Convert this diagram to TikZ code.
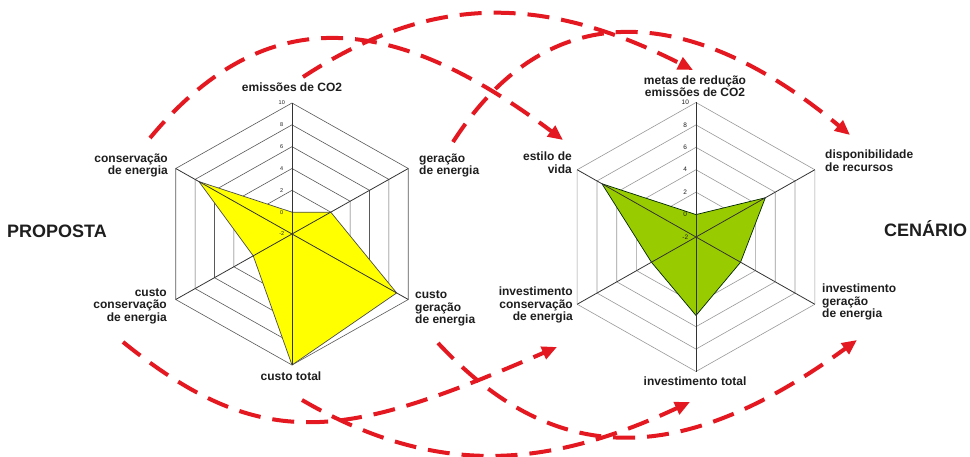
\documentclass[tikz,border=0pt]{standalone}
\usepackage{fontspec}
\setmainfont{Liberation Sans}
\usetikzlibrary{arrows.meta}
\definecolor{dred}{RGB}{228,24,32}
\definecolor{yfill}{RGB}{255,255,0}
\definecolor{gfill}{RGB}{153,204,0}
\definecolor{txt}{RGB}{30,30,30}
\begin{document}
\begin{tikzpicture}[x=1pt,y=-1pt,
  lbl/.style={font=\fontsize{12}{12.6}\selectfont\bfseries, text=txt, inner sep=0pt},
  big/.style={font=\fontsize{18}{20}\selectfont\bfseries, text=txt, inner sep=0pt},
  tickl/.style={font=\fontsize{5.5}{6}\selectfont, text=txt, inner sep=0pt},
  tickr/.style={font=\fontsize{6.5}{7}\selectfont, text=txt, inner sep=0pt},
  ringl/.style={draw=black!65, line width=0.6pt},
  ringr/.style={draw=black!40, line width=0.6pt},
  axisline/.style={draw=black!80, line width=0.8pt},
  flow/.style={draw=dred, line width=4pt, dash pattern=on 22pt off 12pt,
    -{Triangle[length=15pt,width=13pt]}}
]
\useasboundingbox[fill=white] (0,0) rectangle (970,457);

% ---------------- left chart (PROPOSTA) ----------------
\begin{scope}[shift={(292,234)}, yscale=-1, xscale=1.025]
  \def\R{131}
  \foreach \v in {0,2,...,10}{
    \pgfmathsetmacro\r{(\v+2)/12*\R}
    \draw[ringl] (90:\r) -- (30:\r) -- (-30:\r) -- (-90:\r) -- (-150:\r) -- (150:\r) -- cycle;
  }
  \draw[fill=yfill, draw=black!70, line width=0.7pt, line join=round]
    (90:{2/12*\R}) -- (30:{4/12*\R}) -- (-30:{10.8/12*\R}) -- (-90:{12/12*\R})
    -- (-150:{4/12*\R}) -- (150:{9.6/12*\R}) -- cycle;
  \foreach \a in {90,30,-30,-90,-150,150}
    \draw[axisline] (0,0) -- (\a:\R);
  \foreach \v in {-2,0,2,4,6,8,10}{
    \pgfmathsetmacro\r{(\v+2)/12*\R}
    \node[tickl] (tl\v) at (-10,\r) {\v};
  }
\end{scope}

\node[lbl] (em) at (292,87) {emissões de CO2};
\node[lbl, anchor=east, align=right] (cons) at (168,165.5) {conservação\\de energia};
\node[lbl, anchor=west, align=left] (ger) at (419,165.5) {geração\\de energia};
\node[lbl, anchor=west, align=left] (custger) at (415,308.5) {custo\\geração\\de energia};
\node[lbl, anchor=east, align=right] (custcons) at (167,306) {custo\\conservação\\de energia};
\node[lbl] (custot) at (291,376) {custo total};
\node[big, anchor=west] (prop) at (7,231) {PROPOSTA};

% ---------------- right chart (CENARIO) ----------------
\begin{scope}[shift={(696,237)}, yscale=-1, xscale=1.02]
  \def\R{134.5}
  \foreach \v in {0,2,...,10}{
    \pgfmathsetmacro\r{(\v+2)/12*\R}
    \draw[ringr] (90:\r) -- (30:\r) -- (-30:\r) -- (-90:\r) -- (-150:\r) -- (150:\r) -- cycle;
  }
  \draw[fill=gfill, draw=black!75!green!60!black, line width=0.7pt, line join=round]
    (90:{2/12*\R}) -- (30:{7/12*\R}) -- (-30:{4.5/12*\R}) -- (-90:{7/12*\R})
    -- (-150:{4.5/12*\R}) -- (150:{9.5/12*\R}) -- cycle;
  \foreach \a in {90,30,-30,-90,-150,150}
    \draw[axisline] (0,0) -- (\a:\R);
  \foreach \v in {-2,0,2,4,6,8,10}{
    \pgfmathsetmacro\r{(\v+2)/12*\R}
    \node[tickr] (tr\v) at (-10.5,\r) {\v};
  }
\end{scope}

\node[lbl, align=center, font=\fontsize{12}{11.6}\selectfont\bfseries] (metas) at (695,86.5) {metas de redução\\emissões de CO2};
\node[lbl, anchor=east, align=right] (estilo) at (572,163) {estilo de\\vida};
\node[lbl, anchor=west, align=left] (disp) at (825,161) {disponibilidade\\de recursos};
\node[lbl, anchor=east, align=right] (invcons) at (573,305) {investimento\\conservação\\de energia};
\node[lbl, anchor=west, align=left] (invger) at (822,302) {investimento\\geração\\de energia};
\node[lbl] (invtot) at (695,381.5) {investimento total};
\node[big, anchor=west] (cen) at (884,229) {CENÁRIO};

% ---------------- flow arrows ----------------
\coordinate (s1) at (150,138);  \coordinate (e1) at (563,140);
\coordinate (s2) at (453,142);  \coordinate (e2) at (850,135);
\coordinate (s3) at (303,77);   \coordinate (e3) at (693,70);
\coordinate (s4) at (123,342);  \coordinate (e4) at (557,347);
\coordinate (s5) at (438,343);  \coordinate (e5) at (857,340);
\coordinate (s6) at (302,400);  \coordinate (e6) at (690,402);

\draw[flow] (s1) .. controls (271.6,-8.3) and (403,20) .. (e1);
\draw[flow] (s2) .. controls (555.6,-17.6) and (703.7,13.4) .. (e2);
\draw[flow] (s3) .. controls (437.4,-11) and (550.6,-2) .. (e3);
\draw[flow] (s4) .. controls (263.4,455.4) and (345.4,439) .. (e4);
\draw[flow] (s5) .. controls (553.6,467) and (678.8,469.8) .. (e5);
\draw[flow] (s6) .. controls (437,478.5) and (548.7,468) .. (e6);
\end{tikzpicture}
\end{document}
